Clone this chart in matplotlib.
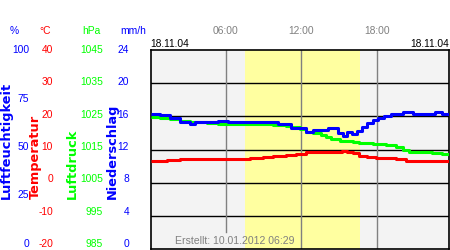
import matplotlib
matplotlib.use("Agg")
import matplotlib.pyplot as plt

plt.rcParams["font.family"] = ["Liberation Sans", "DejaVu Sans"]

# ---------------- data ----------------
hum_t = [0.0, 0.75, 1.55, 2.34, 3.13, 3.53, 4.46, 5.38, 6.18, 8.95, 10.14, 11.2, 12.4, 12.9,
         14.1, 14.9, 15.3, 15.6, 16.0, 16.4, 16.8, 17.2, 17.7, 18.1, 18.6, 19.1, 20.1, 20.9,
         22.6, 23.2, 23.9]
hum_v = [67.7, 67.2, 65.7, 63.7, 62.8, 63.7, 63.7, 64.5, 63.7, 63.9, 62.8, 60.7, 58.9, 59.8,
         60.7, 58.1, 56.8, 58.6, 57.8, 59.5, 61.2, 63.2, 64.8, 65.7, 66.8, 67.7, 68.7, 67.7,
         68.7, 67.7, 67.7]

pres_t = [0.0, 0.75, 1.55, 2.34, 3.13, 4.46, 5.38, 6.18, 8.16, 8.95, 9.75, 10.8, 11.2, 11.87,
          12.4, 12.9, 13.6, 14.0, 14.4, 15.04, 16.1, 16.6, 17.7, 18.75, 19.5, 20.1, 20.6,
          22.4, 23.2, 23.9]
pres_v = [1024.7, 1024.4, 1024.1, 1023.7, 1023.4, 1023.1, 1022.7, 1022.6, 1022.6, 1022.7,
          1022.4, 1022.1, 1021.7, 1021.1, 1020.4, 1019.9, 1019.4, 1018.7, 1018.2, 1017.7,
          1017.4, 1017.0, 1016.7, 1016.4, 1015.7, 1014.8, 1014.2, 1014.0, 1013.6, 1012.8]

temp_t = [0.0, 1.28, 2.34, 3.93, 5.5, 7.9, 8.95, 9.75, 10.8, 11.6, 12.4, 14.0, 14.8, 15.2,
          15.6, 16.1, 16.6, 17.2, 17.95, 19.5, 20.3, 21.65, 23.9]
temp_v = [6.4, 6.8, 7.2, 7.2, 7.2, 7.3, 7.6, 8.0, 8.3, 8.7, 9.2, 9.1, 9.3, 9.6,
          9.2, 8.8, 8.1, 7.6, 7.3, 7.1, 6.6, 6.4, 6.4]

day_start, day_end = 7.5, 16.7
time_ticks = [6, 12, 18]
time_labels = ["06:00", "12:00", "18:00"]
date_left = "18.11.04"
date_right = "18.11.04"
created = "Erstellt: 10.01.2012 06:29"

hum_ticks = ["100", "75", "50", "25", "0"]
temp_ticks = ["40", "30", "20", "10", "0", "-10", "-20"]
pres_ticks = ["1045", "1035", "1025", "1015", "1005", "995", "985"]
prec_ticks = ["24", "20", "16", "12", "8", "4", "0"]

BLUE = "#0000ff"
RED = "#ff0000"
GREEN = "#00ff00"
GRAY = "#808080"

W, H = 450, 250
fig = plt.figure(figsize=(4.5, 2.5), dpi=100)
L, R, T, B = 150.5, 449, 50, 249
ax = fig.add_axes([L / W, 1 - B / H, (R - L) / W, (B - T) / H])
ax.set_facecolor("#f3f3f3")
ax.set_xlim(0, 23.75)
ax.set_ylim(0, 6)
ax.axvspan(day_start, day_end, color="#ffffa0", zorder=0, lw=0)
for yy in range(1, 6):
    ax.axhline(yy, color="black", lw=1.0, zorder=1)
for i, t in enumerate(time_ticks):
    ymin = (B - 232) / (B - T) if i == 0 else 0
    ax.axvline(t, ymin=ymin, color=GRAY, lw=1.0, zorder=1)
ax.set_xticks([]); ax.set_yticks([])
for s in ax.spines.values():
    s.set_color("black"); s.set_linewidth(1.2)

axp = ax.twinx(); axp.set_ylim(985, 1045)
axt = ax.twinx(); axt.set_ylim(-20, 40)
axh = ax.twinx(); axh.set_ylim(0, 100)
for a in (axp, axt, axh):
    a.set_yticks([]); a.set_xlim(0, 23.75)
    for s in a.spines.values():
        s.set_visible(False)

lw = 2.2
axp.plot(pres_t, pres_v, color=GREEN, lw=lw, drawstyle="steps-post", solid_capstyle="butt")
axt.plot(temp_t, temp_v, color=RED, lw=lw, drawstyle="steps-post", solid_capstyle="butt")
axh.plot(hum_t, hum_v, color=BLUE, lw=lw, drawstyle="steps-post", solid_capstyle="butt")

fs = 7.4
def fy(ypix):
    return 1 - ypix / H

# time labels
for t, lab in zip(time_ticks, time_labels):
    xp = L + t / 23.75 * (R - L)
    fig.text(xp / W, fy(31), lab, color=GRAY, fontsize=fs, ha="center", va="center")
fig.text(L / W, fy(44), date_left, color="black", fontsize=fs, ha="left", va="center")
fig.text(R / W, fy(44), date_right, color="black", fontsize=fs, ha="right", va="center")
fig.text(175 / W, fy(241), created, color=GRAY, fontsize=7.6, ha="left", va="center")

# unit headers
fig.text(14 / W, fy(31), "%", color=BLUE, fontsize=fs, ha="center", va="center")
fig.text(45 / W, fy(31), "°C", color=RED, fontsize=fs, ha="center", va="center")
fig.text(91 / W, fy(31), "hPa", color=GREEN, fontsize=fs, ha="center", va="center")
fig.text(133 / W, fy(31), "mm/h", color=BLUE, fontsize=fs, ha="center", va="center")

# tick label columns
for i, lab in enumerate(hum_ticks):
    y = 50 + i * (244 - 50) / 4
    fig.text(29 / W, fy(y), lab, color=BLUE, fontsize=fs, ha="right", va="center")
for i, (a, b, c) in enumerate(zip(temp_ticks, pres_ticks, prec_ticks)):
    y = 50 + i * (244 - 50) / 6
    fig.text(53 / W, fy(y), a, color=RED, fontsize=fs, ha="right", va="center")
    fig.text(103 / W, fy(y), b, color=GREEN, fontsize=fs, ha="right", va="center")
    fig.text(129 / W, fy(y), c, color=BLUE, fontsize=fs, ha="right", va="center")

# rotated axis titles
tf = dict(fontsize=9.3, fontweight="bold", rotation=90, ha="center", va="bottom",
          family="DejaVu Sans")
fig.text(6 / W, fy(199), "Luftfeuchtigkeit", color=BLUE, **tf)
fig.text(35 / W, fy(199), "Temperatur", color=RED, **tf)
fig.text(72 / W, fy(199), "Luftdruck", color=GREEN, **tf)
fig.text(112 / W, fy(199), "Niederschlag", color=BLUE, **tf)

fig.savefig("out.png", dpi=100)
